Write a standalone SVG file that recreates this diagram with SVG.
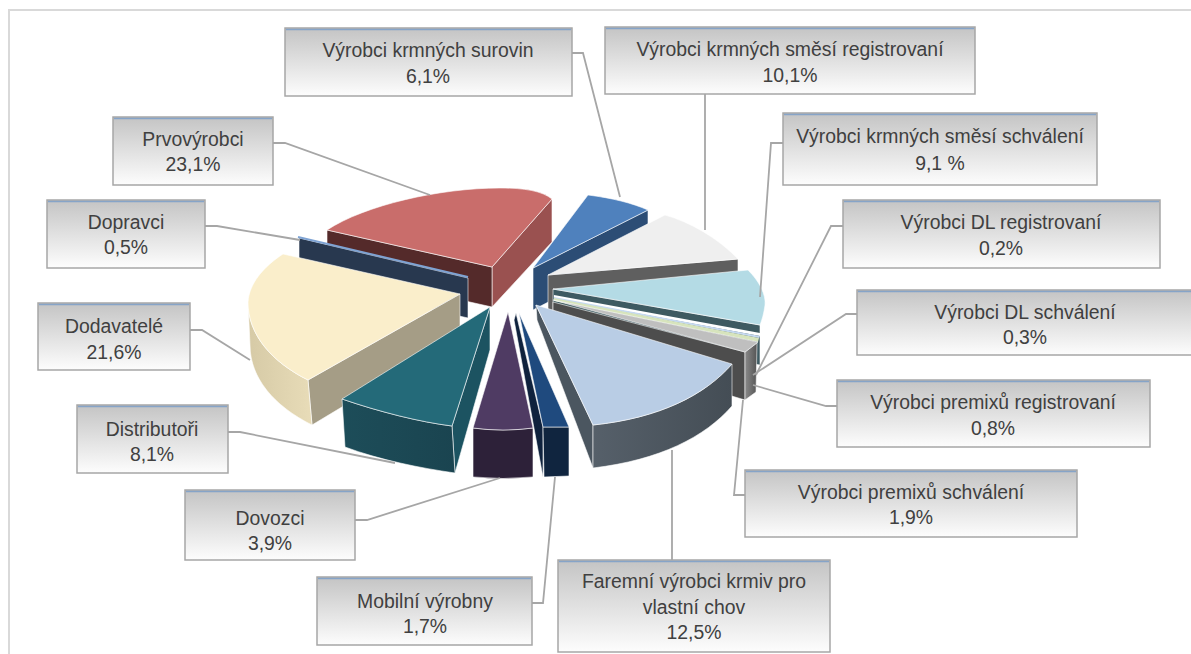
<svg xmlns="http://www.w3.org/2000/svg" width="1191" height="654" viewBox="0 0 1191 654">
<defs>
<linearGradient id="box" x1="0" y1="0" x2="0" y2="1"><stop offset="0" stop-color="#c4c4c4"/><stop offset="1" stop-color="#fdfdfd"/></linearGradient>
<linearGradient id="gCream" x1="0" y1="0" x2="1" y2="0"><stop offset="0" stop-color="#d6caa6"/><stop offset="1" stop-color="#e8dcb8"/></linearGradient>
<linearGradient id="gTeal" x1="0" y1="0" x2="1" y2="0"><stop offset="0" stop-color="#1d4d59"/><stop offset="1" stop-color="#1a4450"/></linearGradient>
<linearGradient id="gFar" x1="0" y1="0" x2="1" y2="0"><stop offset="0" stop-color="#56606a"/><stop offset="1" stop-color="#444d55"/></linearGradient>
<linearGradient id="gGrayO" x1="0" y1="0" x2="1" y2="0"><stop offset="0" stop-color="#8a8a8a"/><stop offset="1" stop-color="#555555"/></linearGradient>
</defs>
<style>
.e{stroke:#ffffff;stroke-opacity:.65;stroke-width:.9;stroke-linejoin:round}
.bx{fill:url(#box);stroke:#a6a6a6;stroke-width:1.5}
.bt{stroke:#86a4c8;stroke-width:1.5}
.t{font-family:"Liberation Sans",Arial,sans-serif;font-size:19.4px;fill:#404040;text-anchor:middle}
.c{fill:none;stroke:#a6a6a6;stroke-width:1.8}
</style>
<rect x="9" y="10" width="1200" height="700" fill="#ffffff" stroke="#d9d9d9" stroke-width="2"/>

<g id="pie">
<g id="slice-prvovyrobci">
<path class="e" d="M492,267 L552,199 L552,242 L492,307 Z" fill="#9a5150"/>
<path class="e" d="M327,230 L492,267 L492,307 L327,270 Z" fill="#542a2a"/>
<path class="e" d="M492,267 L327,230 C365,205 440,188 500,188 C525,188 542,191 552,199 Z" fill="#c96d6b"/>
</g>
<g id="slice-vyrobci-krmnych-surovin">
<path class="e" d="M533,268 L648,210 L648,250 L533,310 Z" fill="#2c4d75"/>
<path class="e" d="M533,268 L588,195 C612,198 632,203 648,210 Z" fill="#4f81bd"/>
</g>
<g id="slice-smesi-registrovani">
<path class="e" d="M548,275 L738,259 L738,300 L548,315 Z" fill="#5f5f5f"/>
<path class="e" d="M548,275 L665,215 C690,222 718,238 738,259 Z" fill="#efefef"/>
</g>
<g id="slice-smesi-schvaleni">
<path class="e" d="M553,289 L760,325 L760,365 L553,329 Z" fill="#3e5a61"/>
<path class="e" d="M553,289 L748,270 C760,282 766,295 765,305 C764,313 762,320 760,325 Z" fill="#b4dbe5"/>
</g>
<g id="slice-dl-registrovani">
<path d="M554,295 L760,333 L760,336 L554,298 Z" fill="#ffffff"/>
</g>
<g id="slice-dl-schvaleni">
<path d="M554,297 L760,336 L759,338 L554,299 Z" fill="#c6d9f1"/>
</g>
<g id="slice-premixu-registrovani">
<path d="M554,298 L759,338 L758,342 L554,301 Z" fill="#d7e4bd"/>
</g>
<g id="slice-premixu-schvaleni">
<path class="e" d="M553,302 L745,352 L745,400 L553,342 Z" fill="#4d4d4d"/>
<path class="e" d="M745,352 L757,343 L756,392 L745,400 Z" fill="url(#gGrayO)"/>
<path class="e" d="M553,300 L758,342 L745,352 Z" fill="#bfbfbf"/>
</g>
<g id="slice-faremni">
<path class="e" d="M536,305 L593,425 L593,468 L537,320 Z" fill="#4b5660"/>
<path class="e" d="M593,425 C660,418 705,395 732,364 L732,406 C705,437 660,460 593,468 Z" fill="url(#gFar)"/>
<path class="e" d="M536,305 L732,364 C705,395 660,418 593,425 Z" fill="#b9cde5"/>
</g>
<g id="slice-dopravci">
<path class="e" d="M299,238 L468,278 L468,318 L299,280 Z" fill="#28384f"/>
<path d="M298,237 L468,277" stroke="#7ea3d3" stroke-width="2"/>
</g>
<g id="slice-dodavatele">
<path class="e" d="M460,294 L308,380 L312,425 L460,336 Z" fill="#a59d86"/>
<path class="e" d="M248,302 C248,335 272,362 308,380 L312,425 C274,406 250,378 250,345 Z" fill="url(#gCream)"/>
<path class="e" d="M460,294 L283,254 C263,267 249,284 248,302 C248,335 272,362 308,380 Z" fill="#faeecb"/>
</g>
<g id="slice-distributori">
<path class="e" d="M490,307 L452,426 L455,473 L490,350 Z" fill="#1c5361"/>
<path class="e" d="M342,399 C380,412 420,422 452,426 L455,473 C420,468 380,460 345,447 Z" fill="url(#gTeal)"/>
<path class="e" d="M490,307 L342,399 C380,412 420,422 452,426 Z" fill="#246a79"/>
</g>
<g id="slice-dovozci">
<path class="e" d="M473,428 Q503,432 533,428 L533,477 Q503,480 473,477 Z" fill="#2d2139"/>
<path class="e" d="M508,312 L533,428 Q503,432 473,428 Z" fill="#4f3b63"/>
</g>
<g id="slice-mobilni">
<path class="e" d="M516,313 L543,427 L543,477 L514,320 Z" fill="#0f223d"/>
<path class="e" d="M543,427 L569,427 L569,476 L544,477 Z" fill="#10253f"/>
<path class="e" d="M519,313 L569,427 L543,427 Z" fill="#1f4a7e"/>
</g>
</g>

<g id="connectors">
<polyline class="c" points="572,53 583,53 620,197"/>
<polyline class="c" points="705,94 705,230"/>
<polyline class="c" points="783,143 771,143 760,297"/>
<polyline class="c" points="843,226 831,226 756,375"/>
<polyline class="c" points="857,314 846,314 753,375"/>
<polyline class="c" points="837,406 826,406 753,385"/>
<polyline class="c" points="745,495 734,495 743,400"/>
<polyline class="c" points="672,560 672,450"/>
<polyline class="c" points="532,603 543,603 555,477"/>
<polyline class="c" points="355,520 367,520 500,478"/>
<polyline class="c" points="228,432 240,432 395,463"/>
<polyline class="c" points="190,330 202,330 250,360"/>
<polyline class="c" points="205,226 217,226 300,240"/>
<polyline class="c" points="273,143 285,143 430,195"/>
</g>

<g id="label-vyrobci-krmnych-surovin">
<rect class="bx" x="285" y="28" width="287" height="68"/><line class="bt" x1="286" y1="29.5" x2="571" y2="29.5"/>
<text class="t" x="428" y="57">Výrobci krmných surovin</text><text class="t" x="428" y="83">6,1%</text>
</g>
<g id="label-smesi-registrovani">
<rect class="bx" x="605" y="27" width="370" height="67"/><line class="bt" x1="606" y1="28.5" x2="974" y2="28.5"/>
<text class="t" x="790" y="56">Výrobci krmných směsí registrovaní</text><text class="t" x="790" y="82">10,1%</text>
</g>
<g id="label-smesi-schvaleni">
<rect class="bx" x="783" y="113" width="314" height="72"/><line class="bt" x1="784" y1="114.5" x2="1096" y2="114.5"/>
<text class="t" x="940" y="143">Výrobci krmných směsí schválení</text><text class="t" x="940" y="170">9,1 %</text>
</g>
<g id="label-dl-registrovani">
<rect class="bx" x="843" y="200" width="317" height="68"/><line class="bt" x1="844" y1="201.5" x2="1159" y2="201.5"/>
<text class="t" x="1001" y="229">Výrobci DL registrovaní</text><text class="t" x="1001" y="255">0,2%</text>
</g>
<g id="label-dl-schvaleni">
<rect class="bx" x="857" y="290" width="336" height="65"/><line class="bt" x1="858" y1="291.5" x2="1192" y2="291.5"/>
<text class="t" x="1025" y="319">Výrobci DL schválení</text><text class="t" x="1025" y="344">0,3%</text>
</g>
<g id="label-premixu-registrovani">
<rect class="bx" x="837" y="380" width="313" height="67"/><line class="bt" x1="838" y1="381.5" x2="1149" y2="381.5"/>
<text class="t" x="993" y="409">Výrobci premixů registrovaní</text><text class="t" x="993" y="435">0,8%</text>
</g>
<g id="label-premixu-schvaleni">
<rect class="bx" x="745" y="470" width="332" height="67"/><line class="bt" x1="746" y1="471.5" x2="1076" y2="471.5"/>
<text class="t" x="911" y="499">Výrobci premixů schválení</text><text class="t" x="911" y="524">1,9%</text>
</g>
<g id="label-faremni">
<rect class="bx" x="558" y="560" width="272" height="92"/><line class="bt" x1="559" y1="561.5" x2="829" y2="561.5"/>
<text class="t" x="694" y="588">Faremní výrobci krmiv pro</text><text class="t" x="694" y="614">vlastní chov</text><text class="t" x="694" y="639">12,5%</text>
</g>
<g id="label-mobilni">
<rect class="bx" x="317" y="577" width="215" height="68"/><line class="bt" x1="318" y1="578.5" x2="531" y2="578.5"/>
<text class="t" x="425" y="608">Mobilní výrobny</text><text class="t" x="425" y="633">1,7%</text>
</g>
<g id="label-dovozci">
<rect class="bx" x="185" y="490" width="170" height="70"/><line class="bt" x1="186" y1="491.5" x2="354" y2="491.5"/>
<text class="t" x="270" y="525">Dovozci</text><text class="t" x="270" y="550">3,9%</text>
</g>
<g id="label-distributori">
<rect class="bx" x="77" y="405" width="151" height="68"/><line class="bt" x1="78" y1="406.5" x2="227" y2="406.5"/>
<text class="t" x="152" y="436">Distributoři</text><text class="t" x="152" y="461">8,1%</text>
</g>
<g id="label-dodavatele">
<rect class="bx" x="38" y="303" width="152" height="67"/><line class="bt" x1="39" y1="304.5" x2="189" y2="304.5"/>
<text class="t" x="114" y="333">Dodavatelé</text><text class="t" x="114" y="359">21,6%</text>
</g>
<g id="label-dopravci">
<rect class="bx" x="47" y="200" width="158" height="68"/><line class="bt" x1="48" y1="201.5" x2="204" y2="201.5"/>
<text class="t" x="126" y="229">Dopravci</text><text class="t" x="126" y="254">0,5%</text>
</g>
<g id="label-prvovyrobci">
<rect class="bx" x="113" y="117" width="160" height="68"/><line class="bt" x1="114" y1="118.5" x2="272" y2="118.5"/>
<text class="t" x="193" y="146">Prvovýrobci</text><text class="t" x="193" y="171">23,1%</text>
</g>
</svg>
